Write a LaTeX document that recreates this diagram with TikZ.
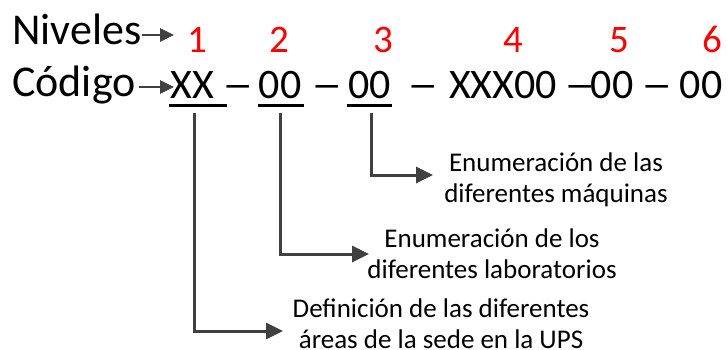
\documentclass[tikz,border=0pt]{standalone}
\usepackage{fontspec}
\usepackage{graphicx}
\setmainfont{Carlito}
\usetikzlibrary{arrows.meta}
\definecolor{arr}{HTML}{404040}
\definecolor{lvl}{HTML}{FF0000}
\newcommand{\wdash}{\scalebox{1.5}[1]{–}}
\begin{document}
\begin{tikzpicture}[x=1pt,y=-1pt,
  lab/.style={font=\fontsize{44}{52}\selectfont, inner sep=0pt, anchor=base west},
  big/.style={font=\fontsize{42}{50}\selectfont, inner sep=0pt, anchor=base},
  lvlnum/.style={font=\fontsize{39}{46}\selectfont, text=lvl, inner sep=0pt, anchor=base},
  desc/.style={font=\fontsize{27}{31}\selectfont, align=center, inner sep=0pt},
  conn/.style={draw=arr, line width=3pt, -{Triangle[length=17pt,width=16pt]}},
  smallarr/.style={draw=arr, line width=2.6pt, -{Triangle[length=14pt,width=13pt]}},
  uline/.style={line width=3pt}]
\useasboundingbox (0,0) rectangle (728,350);

% labels
\node[lab] (niv) at (12,45) {Niveles};
\node[lab] (cod) at (12,97) {Código};
\coordinate (nivtip) at (174,35);
\coordinate (codtip) at (174,87);
\draw[smallarr] ([xshift=1pt]niv.east |- nivtip) -- (nivtip);
\draw[smallarr] ([xshift=3pt]cod.east |- codtip) -- (codtip);

% level numbers
\node[lvlnum] (l1) at (197,53) {1};
\node[lvlnum] (l2) at (279,53) {2};
\node[lvlnum] (l3) at (383,53) {3};
\node[lvlnum] (l4) at (513,53) {4};
\node[lvlnum] (l5) at (619,53) {5};
\node[lvlnum] (l6) at (712,53) {6};

% code row
\node[big] (xx) at (192.5,99) {XX};
\node[big] (d1) at (238,99) {\wdash};
\node[big] (a00) at (280,99) {00};
\node[big] (d2) at (327,99) {\wdash};
\node[big] (b00) at (369.5,99) {00};
\node[big] (d3) at (423,99) {\wdash};
\node[big] (n4) at (503,99) {XXX00};
\node[big] (d4) at (580.5,99) {\wdash};
\node[big] (n5) at (612,99) {00};
\node[big] (d5) at (657.5,99) {\wdash};
\node[big] (n6) at (701,99) {00};

\draw[uline] (169,106) -- (227,106);
\draw[uline] (258,106) -- (304,106);
\draw[uline] (347,106) -- (392,106);

% descriptions
\node[desc] (dm) at (556,180) {Enumeración de las\\diferentes máquinas};
\node[desc] (dl) at (492,254) {Enumeración de los\\diferentes laboratorios};
\node[desc] (dd) at (441,324) {Definición de las diferentes\\áreas de la sede en la UPS};

\coordinate (t1) at (283,331);
\coordinate (t2) at (369,254);
\coordinate (t3) at (433,175);
\draw[conn] ([xshift=1.5pt,yshift=-14pt]xx.base) |- (t1);
\draw[conn] ([yshift=-14pt]a00.base) |- (t2);
\draw[conn] ([xshift=1.5pt,yshift=-14pt]b00.base) |- (t3);
\end{tikzpicture}
\end{document}
